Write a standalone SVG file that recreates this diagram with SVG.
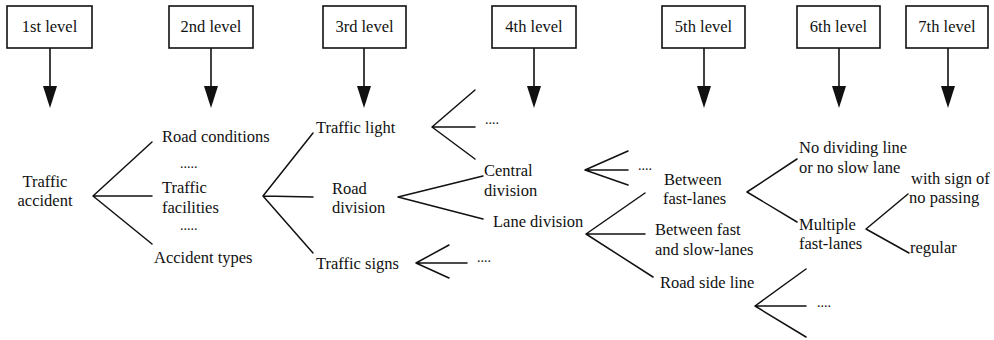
<svg xmlns="http://www.w3.org/2000/svg" width="994" height="340" viewBox="0 0 994 340">
  <style>
    text { font-family: "Liberation Serif", Tinos, "Noto Serif", "DejaVu Serif", "Nimbus Roman", FreeSerif, "Times New Roman", Times, serif; font-size: 16.5px; fill: #111; }
    .mid { text-anchor: middle; }
    .dots { font-size: 14px; }
    .box { fill: #fff; stroke: #111; stroke-width: 1.6; }
    .arrow { stroke: #111; stroke-width: 1.6; fill: none; marker-end: url(#head); }
    .fan { stroke: #111; stroke-width: 1.5; fill: none; stroke-linecap: round; stroke-linejoin: round; }
  </style>
  <defs>
    <marker id="head" markerUnits="userSpaceOnUse" markerWidth="22" markerHeight="14" viewBox="0 0 22 14" refX="14" refY="7" orient="auto">
      <path d="M0,0 L22,7 L0,14 z" fill="#111"/>
    </marker>
  </defs>

  <!-- level headers -->
  <g id="level1"><rect class="box" x="7" y="6" width="85" height="42"/><text class="mid" x="49.5" y="32">1st level</text></g>
  <g id="level2"><rect class="box" x="169" y="6" width="84" height="42"/><text class="mid" x="211" y="32">2nd level</text></g>
  <g id="level3"><rect class="box" x="323" y="6" width="83" height="42"/><text class="mid" x="364.5" y="32">3rd level</text></g>
  <g id="level4"><rect class="box" x="492" y="6" width="84" height="42"/><text class="mid" x="534" y="32">4th level</text></g>
  <g id="level5"><rect class="box" x="662" y="6" width="83" height="42"/><text class="mid" x="703.5" y="32">5th level</text></g>
  <g id="level6"><rect class="box" x="797" y="6" width="83" height="42"/><text class="mid" x="838.5" y="32">6th level</text></g>
  <g id="level7"><rect class="box" x="906" y="6" width="82" height="42"/><text class="mid" x="947" y="32">7th level</text></g>

  <!-- tree labels -->
  <g id="traffic-accident"><text class="mid" x="45" y="187">Traffic</text><text class="mid" x="45" y="206">accident</text></g>
  <g id="road-conditions"><text x="162" y="142">Road conditions</text></g>
  <g id="dots-a"><text class="dots" x="180" y="168">.....</text></g>
  <g id="traffic-facilities"><text x="162" y="193">Traffic</text><text x="162" y="213">facilities</text></g>
  <g id="dots-b"><text class="dots" x="180" y="230">.....</text></g>
  <g id="accident-types"><text x="154" y="263">Accident types</text></g>

  <g id="traffic-light"><text x="316" y="133">Traffic light</text></g>
  <g id="road-division"><text x="332" y="194">Road</text><text x="332" y="213">division</text></g>
  <g id="traffic-signs"><text x="316" y="269">Traffic signs</text></g>

  <g id="dots-light"><text class="dots" x="485" y="124">....</text></g>
  <g id="central-division"><text x="484" y="176">Central</text><text x="484" y="196">division</text></g>
  <g id="lane-division"><text x="493" y="227">Lane division</text></g>
  <g id="dots-signs"><text class="dots" x="477" y="262">....</text></g>

  <g id="dots-central"><text class="dots" x="638" y="170">....</text></g>
  <g id="between-fast-lanes"><text x="664" y="185">Between</text><text x="663" y="204">fast-lanes</text></g>
  <g id="between-fast-slow"><text x="655" y="235">Between fast</text><text x="655" y="255">and slow-lanes</text></g>
  <g id="road-side-line"><text x="660" y="288">Road side line</text></g>
  <g id="dots-side"><text class="dots" x="817" y="307">....</text></g>

  <g id="no-dividing-line"><text x="799" y="153">No dividing line</text><text x="799" y="173">or no slow lane</text></g>
  <g id="multiple-fast-lanes"><text x="799" y="230">Multiple</text><text x="799" y="249">fast-lanes</text></g>

  <g id="no-passing"><text x="911" y="184">with sign of</text><text x="909" y="203">no passing</text></g>
  <g id="regular"><text x="910" y="253">regular</text></g>

  <!-- connectors -->
  <g id="connectors">
    <line class="arrow" x1="50" y1="48" x2="50" y2="100"/>
    <line class="arrow" x1="211" y1="48" x2="211" y2="100"/>
    <line class="arrow" x1="364" y1="48" x2="364" y2="100"/>
    <line class="arrow" x1="534" y1="48" x2="534" y2="100"/>
    <line class="arrow" x1="704" y1="48" x2="704" y2="100"/>
    <line class="arrow" x1="839" y1="48" x2="839" y2="100"/>
    <line class="arrow" x1="948" y1="48" x2="948" y2="100"/>

    <path class="fan" d="M152,142 L93,196 L152,196 M93,196 L152,244"/>
    <path class="fan" d="M313,133 L263,196 L313,197 M263,196 L313,253"/>
    <path class="fan" d="M475,90 L432,127 L475,127 M432,127 L475,159"/>
    <path class="fan" d="M483,176 L398,197 L483,219"/>
    <path class="fan" d="M449,245 L416,263 L467,263 M416,263 L449,278"/>
    <path class="fan" d="M628,151 L585,170 L628,170 M585,170 L628,185"/>
    <path class="fan" d="M645,193 L586,234 L645,234 M586,234 L653,277"/>
    <path class="fan" d="M806,269 L755,306 L806,306 M755,306 L806,337"/>
    <path class="fan" d="M797,159 L747,192 L797,222"/>
    <path class="fan" d="M908,194 L866,229 L909,253"/>
  </g>
</svg>
